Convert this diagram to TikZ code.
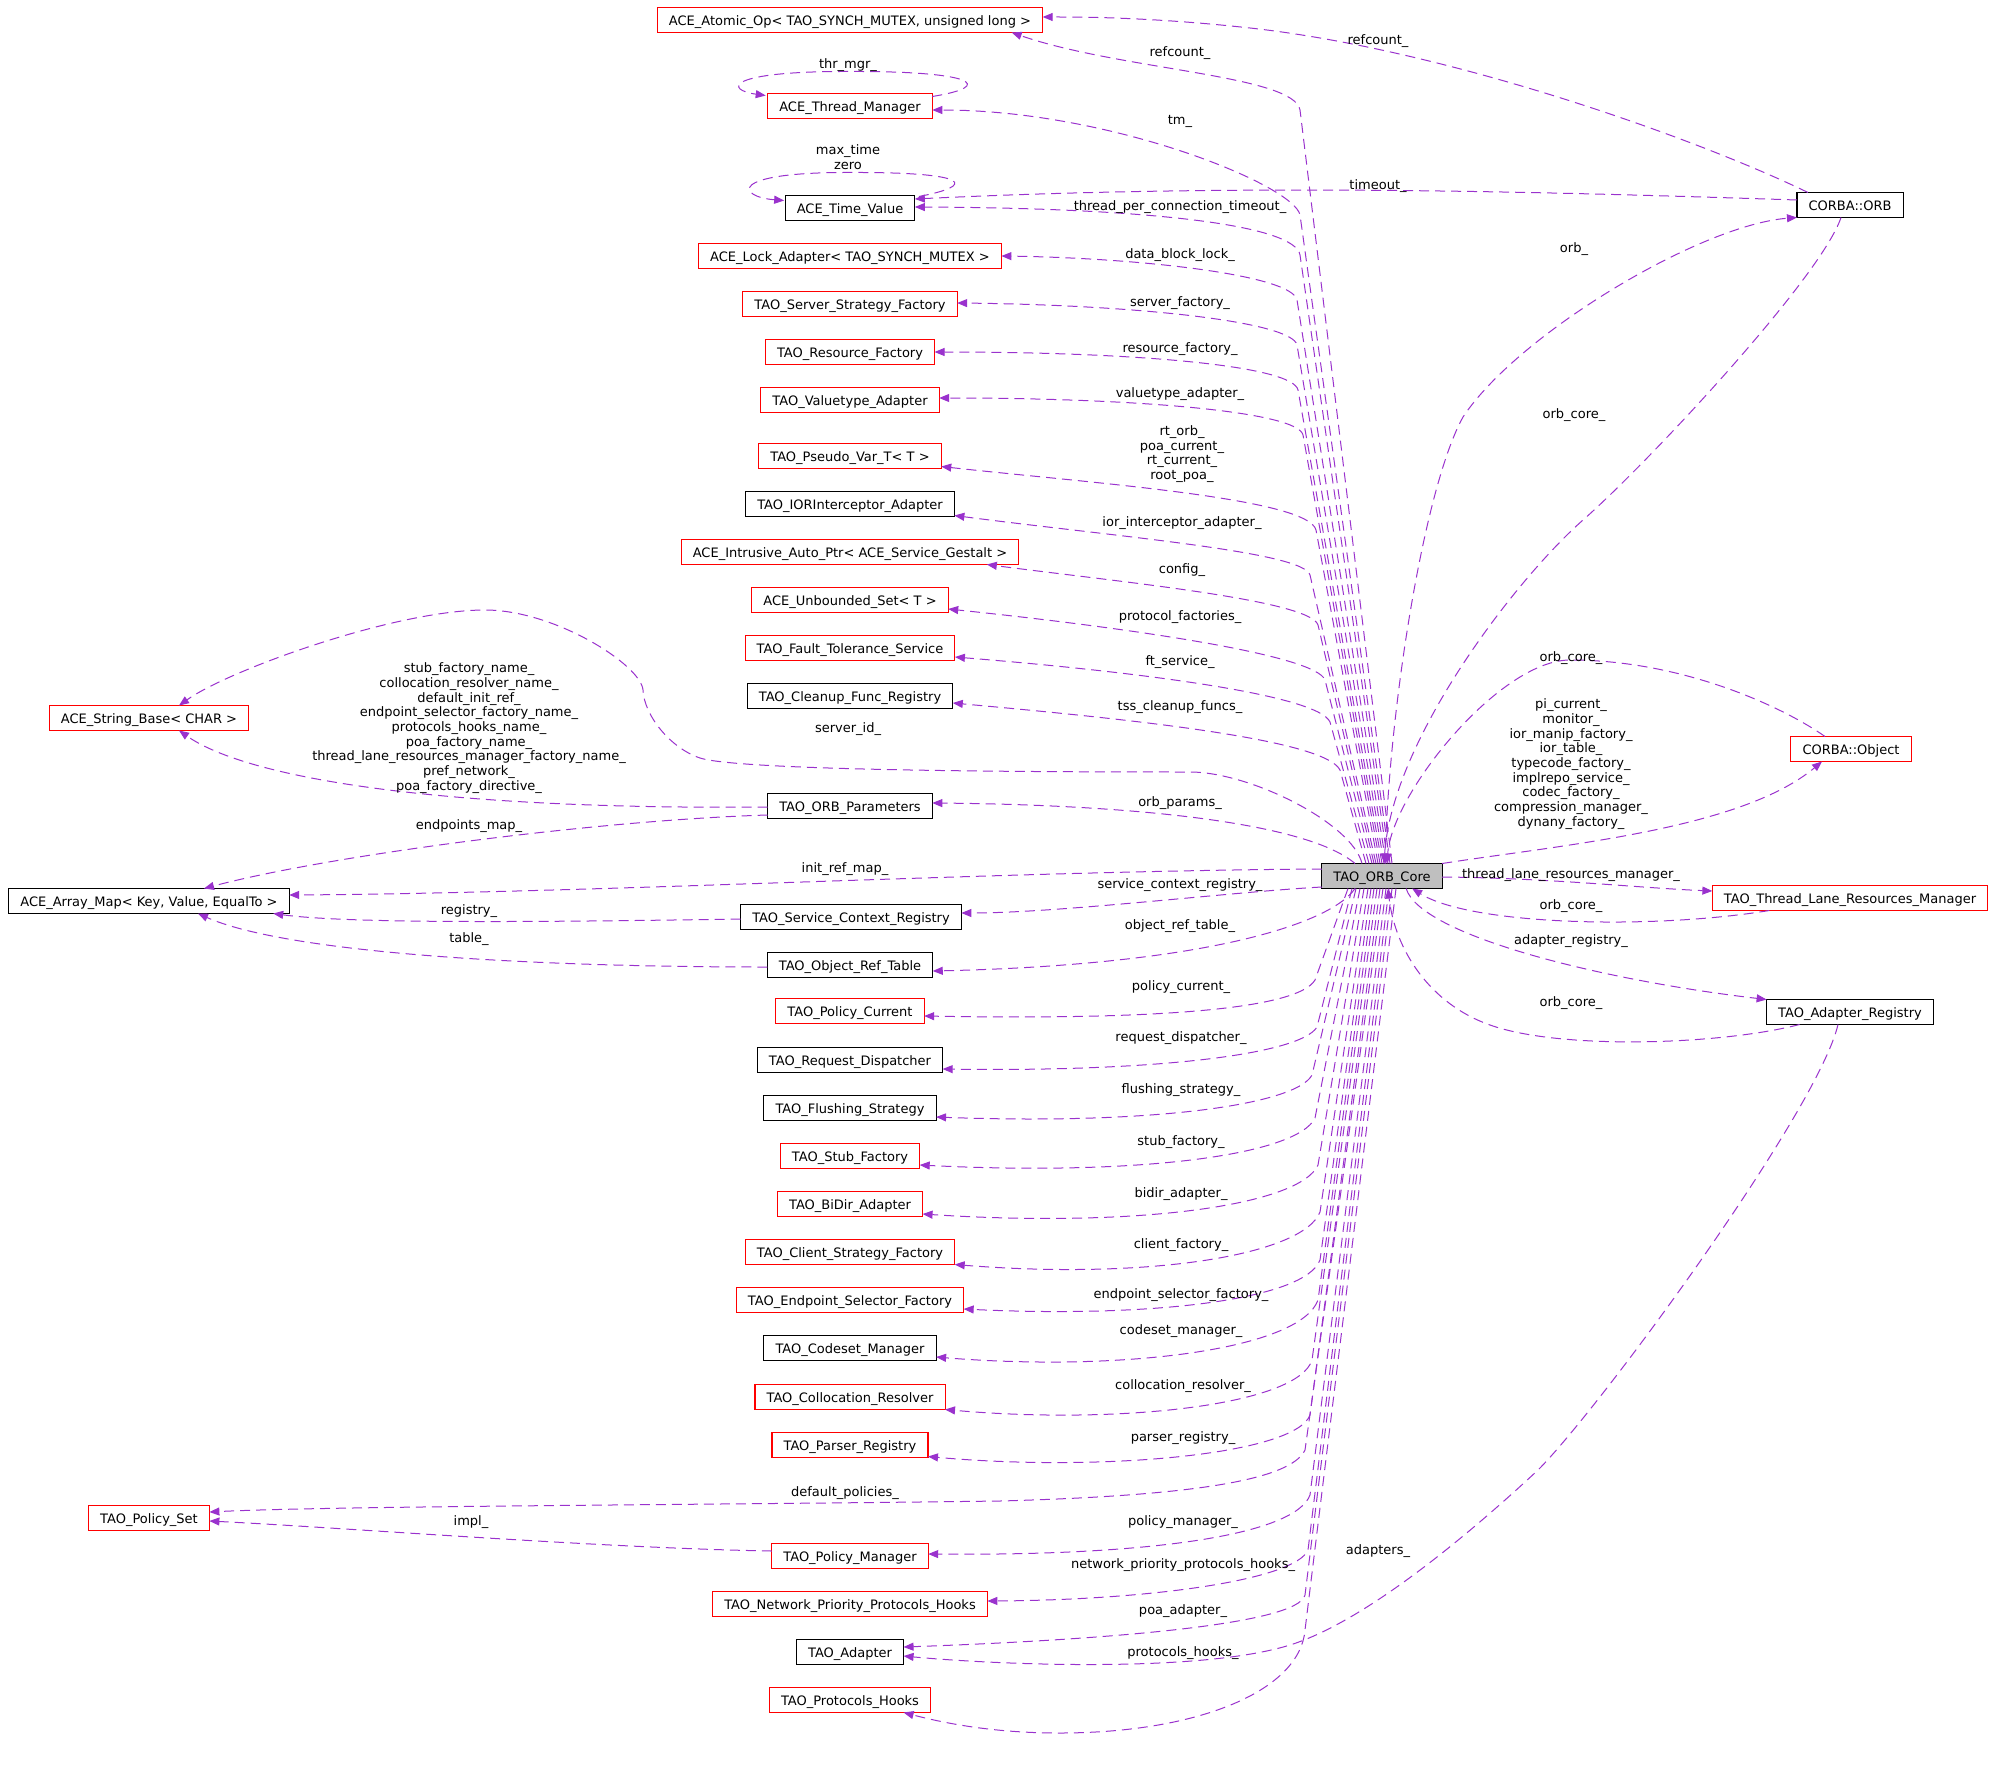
\documentclass[tikz,border=0pt]{standalone}
\usepackage{fontspec}
\setmainfont{DejaVu Sans}
\usetikzlibrary{arrows.meta,calc}
\definecolor{pl}{HTML}{9A32CD}
\definecolor{coregray}{HTML}{BFBFBF}
\tikzset{
  box/.style={draw, rectangle, line width=0.55pt, minimum height=12.5pt, inner xsep=5.8pt, inner ysep=0pt,
    text height=7pt, text depth=1.3pt, outer sep=0pt, fill=white},
  rbox/.style={box, draw=red},
  bbox/.style={box, draw=black},
  cbox/.style={box, draw=black, fill=coregray},
  edge/.style={draw=pl, line width=0.5pt, dash pattern=on 5pt off 3pt, -{Triangle[length=5pt,width=4pt]}},
  lbl/.style={inner sep=0pt, text height=7pt, text depth=1.3pt},
  mlbl/.style={inner sep=0pt, align=center}
}
\begin{document}
\begin{tikzpicture}[x=0.5pt,y=-0.5pt,font=\fontsize{6.5}{7.33}\selectfont]
\useasboundingbox (0,0) rectangle (1995,1765);

% ---------- nodes ----------
\node[rbox] (atomic) at (850,20) {ACE\_Atomic\_Op< TAO\_SYNCH\_MUTEX, unsigned long >};
\node[rbox] (thrmgr) at (850,106) {ACE\_Thread\_Manager};
\node[bbox] (timeval) at (850,208) {ACE\_Time\_Value};
\node[rbox] (lock) at (850,256) {ACE\_Lock\_Adapter< TAO\_SYNCH\_MUTEX >};
\node[rbox] (ssf) at (850,304) {TAO\_Server\_Strategy\_Factory};
\node[rbox] (rf) at (850,352) {TAO\_Resource\_Factory};
\node[rbox] (va) at (850,400) {TAO\_Valuetype\_Adapter};
\node[rbox] (pv) at (850,456) {TAO\_Pseudo\_Var\_T< T >};
\node[bbox] (iori) at (850,504) {TAO\_IORInterceptor\_Adapter};
\node[rbox] (iap) at (850,552) {ACE\_Intrusive\_Auto\_Ptr< ACE\_Service\_Gestalt >};
\node[rbox] (us) at (850,600) {ACE\_Unbounded\_Set< T >};
\node[rbox] (fts) at (850,648) {TAO\_Fault\_Tolerance\_Service};
\node[bbox] (cfr) at (850,696) {TAO\_Cleanup\_Func\_Registry};
\node[rbox] (sb) at (149,718) {ACE\_String\_Base< CHAR >};
\node[bbox] (op) at (850,806) {TAO\_ORB\_Parameters};
\node[bbox] (am) at (149,901) {ACE\_Array\_Map< Key, Value, EqualTo >};
\node[bbox] (scr) at (851,917) {TAO\_Service\_Context\_Registry};
\node[bbox] (ort) at (850,965) {TAO\_Object\_Ref\_Table};
\node[rbox] (pc) at (850,1011) {TAO\_Policy\_Current};
\node[bbox] (rd) at (850,1060) {TAO\_Request\_Dispatcher};
\node[bbox] (fs) at (850,1108) {TAO\_Flushing\_Strategy};
\node[rbox] (stf) at (850,1156) {TAO\_Stub\_Factory};
\node[rbox] (bd) at (850,1204) {TAO\_BiDir\_Adapter};
\node[rbox] (csf) at (850,1252) {TAO\_Client\_Strategy\_Factory};
\node[rbox] (esf) at (850,1300) {TAO\_Endpoint\_Selector\_Factory};
\node[bbox] (cm) at (850,1348) {TAO\_Codeset\_Manager};
\node[rbox] (cr) at (850,1397) {TAO\_Collocation\_Resolver};
\node[rbox] (preg) at (850,1445) {TAO\_Parser\_Registry};
\node[rbox] (ps) at (149,1518) {TAO\_Policy\_Set};
\node[rbox] (pm) at (850,1556) {TAO\_Policy\_Manager};
\node[rbox] (npph) at (850,1604) {TAO\_Network\_Priority\_Protocols\_Hooks};
\node[bbox] (ad) at (850,1652) {TAO\_Adapter};
\node[rbox] (ph) at (850,1700) {TAO\_Protocols\_Hooks};
\node[cbox] (core) at (1382,876) {TAO\_ORB\_Core};
\node[bbox] (orb) at (1850,205) {CORBA::ORB};
\node[rbox] (obj) at (1851,749) {CORBA::Object};
\node[rbox] (tlrm) at (1850,898) {TAO\_Thread\_Lane\_Resources\_Manager};
\node[bbox] (areg) at (1850,1012) {TAO\_Adapter\_Registry};

% ---------- edges: core to upper-left ----------
\draw[edge] ($(core.north)+(10,0)$) -- (1300,110) .. controls (1294,75) and (1120,70) .. ($(atomic.south east)+(-31,0)$);
\draw[edge] ($(core.north)+(8,0)$) -- (1300,215) .. controls (1294,185) and (1110,110) .. ($(thrmgr.east)+(0,4)$);
\draw[edge] ($(core.north)+(6,0)$) -- (1300,255) .. controls (1295,225) and (1150,208) .. ($(timeval.east)+(0,-1)$);
\draw[edge] ($(core.north)+(4,0)$) -- (1297,300) .. controls (1292,275) and (1140,258) .. (lock.east);
\draw[edge] ($(core.north)+(2,0)$) -- (1297,345) .. controls (1292,322) and (1140,305) .. ($(ssf.east)+(0,-1)$);
\draw[edge] ($(core.north)+(0,0)$) -- (1298,390) .. controls (1293,366) and (1140,352) .. (rf.east);
\draw[edge] ($(core.north)+(-2,0)$) -- (1303,435) .. controls (1298,412) and (1140,398) .. ($(va.east)+(0,-2)$);
\draw[edge] ($(core.north)+(-4,0)$) -- (1316,530) .. controls (1308,498) and (1090,483) .. ($(pv.south east)+(0,-2)$);
\draw[edge] ($(core.north)+(-6,0)$) -- (1310,575) .. controls (1304,552) and (1120,537) .. ($(iori.south east)+(0,-1)$);
\draw[edge] ($(core.north)+(-8,0)$) -- (1318,625) .. controls (1310,600) and (1120,582) .. ($(iap.south east)+(-32,0)$);
\draw[edge] ($(core.north)+(-10,0)$) -- (1325,680) .. controls (1316,655) and (1130,628) .. ($(us.east)+(0,9)$);
\draw[edge] ($(core.north)+(-13,0)$) -- (1330,722) .. controls (1318,695) and (1140,672) .. ($(fts.east)+(0,9)$);
\draw[edge] ($(core.north)+(-16,0)$) -- (1340,770) .. controls (1325,740) and (1140,720) .. ($(cfr.east)+(0,7)$);
% server_id_
\draw[edge] ($(core.north)+(-20,0)$) .. controls (1352,823) and (1250,772) .. (1190,772)
  .. controls (1040,772) and (740,771) .. (700,758)
  .. controls (670,748) and (644,715) .. (643,690)
  .. controls (641,665) and (555,610) .. (485,610)
  .. controls (395,610) and (229,670) .. ($(sb.north)+(30,0)$);
\draw[edge] ($(core.north)+(-27,0)$) .. controls (1310,825) and (1150,805) .. ($(op.east)+(0,-3)$);
\draw[edge] ($(core.west)+(0,-7)$) .. controls (1000,871) and (600,893) .. ($(am.east)+(0,-6)$);
\draw[edge] ($(core.west)+(0,11)$) .. controls (1230,892) and (1060,913) .. ($(scr.east)+(0,-4)$);
\draw[edge] ($(core.south)+(-27,0)$) .. controls (1330,925) and (1200,965) .. ($(ort.east)+(0,6)$);

% ---------- edges: core to lower-left ----------
\draw[edge] ($(core.south)+(-34,0)$) -- (1315,980) .. controls (1297,1010) and (1150,1020) .. ($(pc.east)+(0,5)$);
\draw[edge] ($(core.south)+(-30,0)$) -- (1317,1027) .. controls (1300,1055) and (1150,1072) .. ($(rd.east)+(0,9)$);
\draw[edge] ($(core.south)+(-26,0)$) -- (1312,1075) .. controls (1296,1105) and (1150,1125) .. ($(fs.east)+(0,9)$);
\draw[edge] ($(core.south)+(-22,0)$) -- (1315,1118) .. controls (1297,1155) and (1140,1176) .. ($(stf.east)+(0,9)$);
\draw[edge] ($(core.south)+(-18,0)$) -- (1318,1165) .. controls (1300,1205) and (1140,1228) .. ($(bd.east)+(0,10)$);
\draw[edge] ($(core.south)+(-14,0)$) -- (1320,1212) .. controls (1303,1255) and (1150,1280) .. (csf.south east);
\draw[edge] ($(core.south)+(-11,0)$) -- (1320,1260) .. controls (1305,1300) and (1150,1318) .. ($(esf.east)+(0,9)$);
\draw[edge] ($(core.south)+(-8,0)$) -- (1318,1300) .. controls (1300,1350) and (1120,1372) .. ($(cm.east)+(0,9)$);
\draw[edge] ($(core.south)+(-5,0)$) -- (1312,1360) .. controls (1298,1405) and (1120,1425) .. (cr.south east);
\draw[edge] ($(core.south)+(-2,0)$) -- (1310,1415) .. controls (1295,1455) and (1100,1472) .. ($(preg.south east)+(0,-1)$);
\draw[edge] ($(core.south)+(1,0)$) -- (1305,1450) .. controls (1290,1482) and (1180,1496) .. (1000,1501)
  .. controls (700,1505) and (330,1506) .. ($(ps.east)+(0,-6)$);
\draw[edge] ($(core.south)+(4,0)$) -- (1310,1495) .. controls (1295,1535) and (1150,1556) .. ($(pm.east)+(0,-2)$);
\draw[edge] ($(core.south)+(7,0)$) -- (1308,1550) .. controls (1295,1580) and (1150,1600) .. ($(npph.east)+(0,-3)$);
\draw[edge] ($(core.south)+(10,0)$) -- (1305,1595) .. controls (1298,1625) and (1100,1640) .. ($(ad.east)+(0,-5)$);
\draw[edge] ($(core.south)+(14,0)$) -- (1305,1630) .. controls (1300,1690) and (1200,1733) .. (1059,1733)
  .. controls (990,1733) and (940,1722) .. ($(ph.south east)+(-27,0)$);

% ---------- edges: right side ----------
\draw[edge] ($(core.north)+(3,0)$) .. controls (1388,713) and (1424,487) .. (1463,417)
  .. controls (1518,334) and (1700,225) .. (orb.south west);
\draw[edge] ($(orb.south)+(-9,0)$) .. controls (1821,277) and (1650,461) .. (1583,520)
  .. controls (1516,579) and (1392,740) .. ($(core.north)+(2,0)$);
\draw[edge] (core.north east) .. controls (1560,845) and (1740,830) .. ($(obj.south)+(-29,0)$);
\draw[edge] ($(obj.north)+(-26,0)$) .. controls (1780,705) and (1680,660) .. (1570,660)
  .. controls (1500,660) and (1392,793) .. ($(core.north)+(5,0)$);
\draw[edge] ($(core.east)+(0,1)$) .. controls (1550,878) and (1640,888) .. ($(tlrm.west)+(0,-7)$);
\draw[edge] ($(tlrm.south west)+(57,0)$) .. controls (1650,930) and (1470,925) .. ($(core.south east)+(-30,0)$);
\draw[edge] ($(core.south east)+(-36,0)$) .. controls (1420,935) and (1600,980) .. (areg.north west);
\draw[edge] ($(areg.south west)+(33,0)$) .. controls (1720,1045) and (1560,1050) .. (1490,1025)
  .. controls (1430,1004) and (1395,950) .. ($(core.south)+(6,0)$);
\draw[edge] ($(orb.north west)+(11,0)$) .. controls (1700,140) and (1450,50) .. (1250,28)
  .. controls (1150,17) and (1080,17) .. ($(atomic.east)+(0,-3)$);
\draw[edge] ($(orb.west)+(0,-5)$) .. controls (1550,192) and (1250,183) .. ($(timeval.east)+(0,-9)$);
\draw[edge] ($(areg.south)+(-12,0)$) .. controls (1818,1110) and (1600,1408) .. (1538,1470)
  .. controls (1480,1524) and (1370,1620) .. (1290,1645)
  .. controls (1200,1673) and (1000,1665) .. ($(ad.east)+(0,4)$);

% ---------- edges: left side ----------
\draw[edge] ($(op.west)+(0,1)$) .. controls (450,810) and (250,780) .. ($(sb.south)+(30,0)$);
\draw[edge] ($(op.west)+(0,9)$) .. controls (600,820) and (330,855) .. ($(am.north)+(55,0)$);
\draw[edge] ($(scr.west)+(0,2)$) .. controls (550,922) and (350,924) .. ($(am.south east)+(-16,0)$);
\draw[edge] ($(ort.west)+(0,2)$) .. controls (500,967) and (280,950) .. ($(am.south)+(49,0)$);
\draw[edge] ($(pm.west)+(0,-5)$) .. controls (600,1548) and (350,1528) .. ($(ps.east)+(0,3)$);

% ---------- self loops ----------
\draw[edge] ($(thrmgr.north east)+(0,3)$) .. controls (997,86) and (974,71) .. ($(thrmgr.north)+(0,-22)$)
  .. controls (724,71) and (725,90) .. ($(thrmgr.north west)+(-2,2)$);
\draw[edge] ($(timeval.north east)+(4,1)$) .. controls (975,186) and (975,172) .. ($(timeval.north)+(0,-23)$)
  .. controls (725,172) and (738,197) .. ($(timeval.north west)+(-1,5)$);

% ---------- labels ----------
\node[lbl] (lrefa) at (1378,39) {refcount\_};
\node[lbl] (lrefb) at (1180,51) {refcount\_};
\node[lbl] (lthr) at (848,63) {thr\_mgr\_};
\node[lbl] (ltm) at (1180,119) {tm\_};
\node[mlbl] (lmax) at (848,157) {max\_time\\zero};
\node[lbl] (lto) at (1378,184) {timeout\_};
\node[lbl] (ltpct) at (1180,205) {thread\_per\_connection\_timeout\_};
\node[lbl] (lorb) at (1574,247) {orb\_};
\node[lbl] (ldbl) at (1180,253) {data\_block\_lock\_};
\node[lbl] (lsf) at (1180,301) {server\_factory\_};
\node[lbl] (lrf) at (1180,347) {resource\_factory\_};
\node[lbl] (lva) at (1180,392) {valuetype\_adapter\_};
\node[lbl] (lorbc1) at (1574,413) {orb\_core\_};
\node[mlbl] (lrt) at (1182,454) {rt\_orb\_\\poa\_current\_\\rt\_current\_\\root\_poa\_};
\node[lbl] (liori) at (1182,521) {ior\_interceptor\_adapter\_};
\node[lbl] (lcfg) at (1182,568) {config\_};
\node[lbl] (lpf) at (1180,615) {protocol\_factories\_};
\node[lbl] (lorbc2) at (1571,656) {orb\_core\_};
\node[lbl] (lft) at (1180,660) {ft\_service\_};
\node[mlbl] (lsb) at (469,728) {stub\_factory\_name\_\\collocation\_resolver\_name\_\\default\_init\_ref\_\\endpoint\_selector\_factory\_name\_\\protocols\_hooks\_name\_\\poa\_factory\_name\_\\thread\_lane\_resources\_manager\_factory\_name\_\\pref\_network\_\\poa\_factory\_directive\_};
\node[mlbl] (lpic) at (1571,764) {pi\_current\_\\monitor\_\\ior\_manip\_factory\_\\ior\_table\_\\typecode\_factory\_\\implrepo\_service\_\\codec\_factory\_\\compression\_manager\_\\dynany\_factory\_};
\node[lbl] (ltss) at (1180,705) {tss\_cleanup\_funcs\_};
\node[lbl] (lsid) at (848,727) {server\_id\_};
\node[lbl] (lop) at (1180,801) {orb\_params\_};
\node[lbl] (lep) at (469,824) {endpoints\_map\_};
\node[lbl] (lirm) at (845,867) {init\_ref\_map\_};
\node[lbl] (ltlrm) at (1571,873) {thread\_lane\_resources\_manager\_};
\node[lbl] (lscr) at (1180,883) {service\_context\_registry\_};
\node[lbl] (lorbc3) at (1571,904) {orb\_core\_};
\node[lbl] (lreg) at (469,909) {registry\_};
\node[lbl] (lort) at (1180,924) {object\_ref\_table\_};
\node[lbl] (ltab) at (469,937) {table\_};
\node[lbl] (lar) at (1571,939) {adapter\_registry\_};
\node[lbl] (lpc) at (1181,985) {policy\_current\_};
\node[lbl] (lorbc4) at (1571,1001) {orb\_core\_};
\node[lbl] (lrd) at (1181,1036) {request\_dispatcher\_};
\node[lbl] (lfs) at (1181,1088) {flushing\_strategy\_};
\node[lbl] (lstf) at (1181,1140) {stub\_factory\_};
\node[lbl] (lbd) at (1181,1192) {bidir\_adapter\_};
\node[lbl] (lcf) at (1181,1243) {client\_factory\_};
\node[lbl] (lesf) at (1181,1293) {endpoint\_selector\_factory\_};
\node[lbl] (lcm) at (1181,1329) {codeset\_manager\_};
\node[lbl] (lcr) at (1183,1384) {collocation\_resolver\_};
\node[lbl] (lpr) at (1183,1436) {parser\_registry\_};
\node[lbl] (ldp) at (845,1491) {default\_policies\_};
\node[lbl] (limpl) at (471,1520) {impl\_};
\node[lbl] (lpm) at (1183,1520) {policy\_manager\_};
\node[lbl] (lads) at (1378,1549) {adapters\_};
\node[lbl] (lnpph) at (1183,1563) {network\_priority\_protocols\_hooks\_};
\node[lbl] (lpoa) at (1183,1609) {poa\_adapter\_};
\node[lbl] (lph) at (1183,1651) {protocols\_hooks\_};
\end{tikzpicture}
\end{document}
